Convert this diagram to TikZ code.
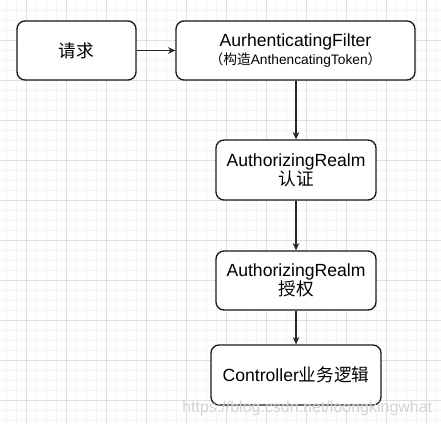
\documentclass[tikz,border=0pt]{standalone}
\usepackage{fontspec}
\setmainfont{Liberation Sans}
\newfontfamily\cjk{Noto Sans CJK SC}
\usetikzlibrary{arrows.meta}
\definecolor{gridmajor}{RGB}{222,222,222}
\definecolor{gridminor}{RGB}{244,244,244}
\definecolor{wmark}{RGB}{212,212,212}
\tikzset{
  minorline/.style={gridminor, line width=0.75pt},
  majorline/.style={gridmajor, line width=0.75pt},
  box/.style={draw=black!90, fill=white, line width=1pt, rounded corners=6pt,
    inner sep=0pt, align=center, font=\fontsize{13.2}{15}\selectfont},
  arr/.style={draw=black!85, line width=0.8pt, -{Stealth[length=5.5pt,width=5pt]}},
}
\begin{document}
\begin{tikzpicture}[x=0.75pt,y=-0.75pt]
\useasboundingbox (0,0) rectangle (441,424);
\fill[white] (0,0) rectangle (441,424);
% grid
\foreach \x in {6.3,16.3,...,440}{\draw[minorline] (\x,0) -- (\x,424);}
\foreach \y in {10.3,20.3,...,424}{\draw[minorline] (0,\y) -- (441,\y);}
\foreach \x in {26.3,66.3,...,440}{\draw[majorline] (\x,0) -- (\x,424);}
\foreach \y in {40.3,80.3,...,424}{\draw[majorline] (0,\y) -- (441,\y);}
% boxes
\node[box, minimum width=89.25pt, minimum height=44.25pt] (req) at (76.5,50.5) {\cjk 请求};
\node[box, minimum width=179.25pt, minimum height=44.25pt] (filt) at (295.5,50.5)
  {AurhenticatingFilter\\[-1.5pt]{\fontsize{10.3}{12}\selectfont\cjk （构造\rmfamily AnthencatingToken\cjk ）}};
\node[box, minimum width=120pt, minimum height=45pt] (auth) at (296,170)
  {AuthorizingRealm\\[-1pt]{\cjk 认证}};
\node[box, minimum width=120pt, minimum height=44.25pt] (authz) at (296,280.5)
  {AuthorizingRealm\\[-1pt]{\cjk 授权}};
\node[box, minimum width=127.5pt, minimum height=45pt] (ctrl) at (296,375)
  {Controller{\cjk 业务逻辑}};
% connectors
\draw[arr] (req) -- (filt);
\draw[arr] (filt.south -| auth.north) -- (auth.north);
\draw[arr] (auth) -- (authz);
\draw[arr] (authz) -- (ctrl);
% watermark
\node[anchor=base west, inner sep=0pt, text=wmark, font=\fontsize{12}{14}\selectfont] (wm) at (182,412.7) {https://blog.csdn.net/loongkingwhat};
\end{tikzpicture}
\end{document}
